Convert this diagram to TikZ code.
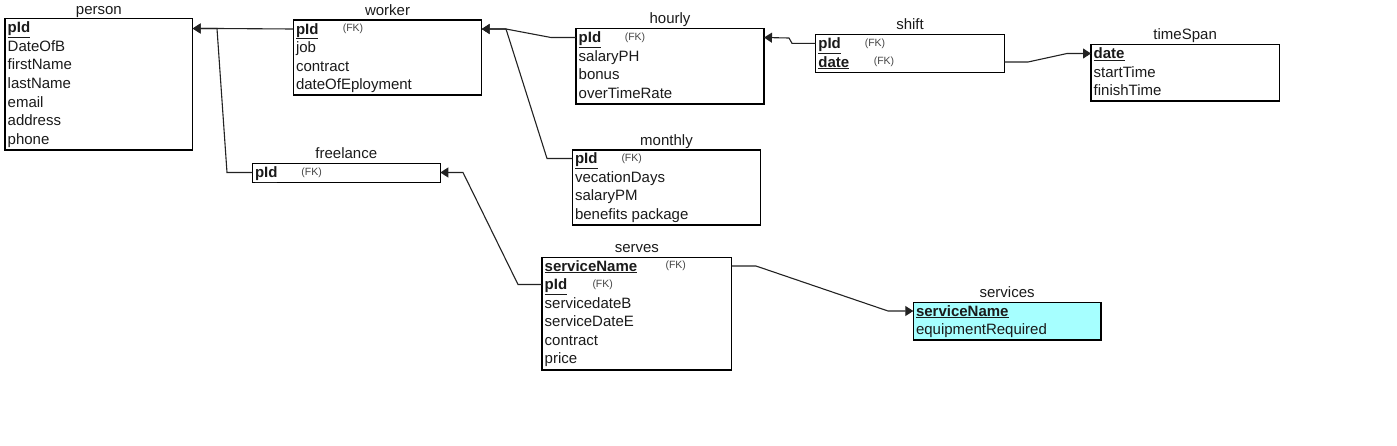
\documentclass[tikz,border=0pt]{standalone}
\usepackage{fontspec}
\setmainfont{Liberation Sans}
\usetikzlibrary{arrows.meta}
\definecolor{svcfill}{HTML}{A6FFFF}
\definecolor{fkgray}{HTML}{444444}
\definecolor{linegray}{HTML}{222222}
\definecolor{txt}{HTML}{1A1A1A}
\tikzset{
  tbox/.style={draw=black, line width=1.2pt, anchor=north west, inner sep=0pt, outer sep=0pt},
  attr/.style={anchor=west, inner sep=0pt, text height=12pt, text depth=2pt, text=txt, font=\fontsize{15}{16}\selectfont},
  fk/.style={anchor=center, inner sep=0pt, text=fkgray, font=\fontsize{10.5}{12}\selectfont},
  ttl/.style={anchor=base, inner sep=0pt, text=txt, font=\fontsize{15}{16}\selectfont},
  conn/.style={draw=linegray, line width=1.1pt, -{Triangle[length=8pt,width=10pt]}},
}
\newcommand{\keyattr}[1]{\underline{\textbf{#1}}}
\begin{document}
\begin{tikzpicture}[x=1pt,y=-1pt]
\useasboundingbox (0,0) rectangle (1397,445);

% person
\node[tbox, minimum width=187.7pt, minimum height=131.3pt] (person) at (5,18.7) {};
\node[ttl] (personT) at ([yshift=4.4pt]person.north) {person};
\node[attr] (ppid) at (7.5,27.3) {\keyattr{pId}};
\node[attr] (p2) at (7.5,46) {DateOfB};
\node[attr] (p3) at (7.5,64.7) {firstName};
\node[attr] (p4) at (7.5,83.3) {lastName};
\node[attr] (p5) at (7.5,102) {email};
\node[attr] (p6) at (7.5,120.7) {address};
\node[attr] (p7) at (7.5,139.3) {phone};

% worker
\node[tbox, minimum width=188.4pt, minimum height=75pt] (worker) at (293.3,20) {};
\node[ttl] (workerT) at ([yshift=4.4pt]worker.north) {worker};
\node[attr] (wpid) at (295.8,29) {\keyattr{pId}};
\node[fk] (wfk) at (353,29) {(FK)};
\node[attr] (w2) at (295.8,47.5) {job};
\node[attr] (w3) at (295.8,66) {contract};
\node[attr] (w4) at (295.8,84.5) {dateOfEployment};

% freelance
\node[tbox, minimum width=188pt, minimum height=19.4pt] (freelance) at (252.3,163.3) {};
\node[ttl] (freelanceT) at ([yshift=4.4pt]freelance.north) {freelance};
\node[attr] (fpid) at (254.8,172.5) {\keyattr{pId}};
\node[fk] (ffk) at (311.7,172.5) {(FK)};

% hourly
\node[tbox, minimum width=188pt, minimum height=75.7pt] (hourly) at (576,28.3) {};
\node[ttl] (hourlyT) at ([yshift=4.4pt]hourly.north) {hourly};
\node[attr] (hpid) at (578.5,37.5) {\keyattr{pId}};
\node[fk] (hfk) at (635,37.5) {(FK)};
\node[attr] (h2) at (578.5,56) {salaryPH};
\node[attr] (h3) at (578.5,74.5) {bonus};
\node[attr] (h4) at (578.5,93) {overTimeRate};

% monthly
\node[tbox, minimum width=188.4pt, minimum height=75pt] (monthly) at (572.3,150) {};
\node[ttl] (monthlyT) at ([yshift=4.4pt]monthly.north) {monthly};
\node[attr] (mpid) at (574.8,158.5) {\keyattr{pId}};
\node[fk] (mfk) at (631.7,158.5) {(FK)};
\node[attr] (m2) at (574.8,177) {vecationDays};
\node[attr] (m3) at (574.8,195.5) {salaryPM};
\node[attr] (m4) at (574.8,214) {benefits package};

% shift
\node[tbox, minimum width=188.6pt, minimum height=38pt] (shift) at (815.7,34.3) {};
\node[ttl] (shiftT) at ([yshift=4.4pt]shift.north) {shift};
\node[attr] (spid) at (818.2,43.3) {\keyattr{pId}};
\node[fk] (sfk1) at (875,43.3) {(FK)};
\node[attr] (sdate) at (818.2,62) {\keyattr{date}};
\node[fk] (sfk2) at (884,62) {(FK)};

% timeSpan
\node[tbox, minimum width=188.3pt, minimum height=56.7pt] (timeSpan) at (1091,44.3) {};
\node[ttl] (timeSpanT) at ([yshift=4.4pt]timeSpan.north) {timeSpan};
\node[attr] (tdate) at (1093.5,53.5) {\keyattr{date}};
\node[attr] (t2) at (1093.5,72) {startTime};
\node[attr] (t3) at (1093.5,90.5) {finishTime};

% serves
\node[tbox, minimum width=189.7pt, minimum height=112.7pt] (serves) at (542,257.3) {};
\node[ttl] (servesT) at ([yshift=4.4pt]serves.north) {serves};
\node[attr] (svname) at (544.5,266) {\keyattr{serviceName}};
\node[fk] (svfk1) at (675.7,266) {(FK)};
\node[attr] (svpid) at (544.5,284.5) {\keyattr{pId}};
\node[fk] (svfk2) at (602.7,284.5) {(FK)};
\node[attr] (sv3) at (544.5,303) {servicedateB};
\node[attr] (sv4) at (544.5,321.5) {serviceDateE};
\node[attr] (sv5) at (544.5,340) {contract};
\node[attr] (sv6) at (544.5,358.5) {price};

% services
\node[tbox, fill=svcfill, minimum width=187.7pt, minimum height=37.7pt] (services) at (913.3,302.3) {};
\node[ttl] (servicesT) at ([yshift=4.4pt]services.north) {services};
\node[attr] (sname) at (915.8,311) {\keyattr{serviceName}};
\node[attr] (s2) at (915.8,329.5) {equipmentRequired};

% junction points
\coordinate (j1) at (217,28.5);
\coordinate (j2) at (506,29);

% connectors
\draw[conn] (worker.west |- wpid.west) -- (j1) -- (person.east |- j1);
\draw[conn] (freelance.west |- fpid.west) -- (227,172.5) -- (j1) -- (person.east |- j1);
\draw[conn] (hourly.west |- hpid.west) -- (551,37.5) -- (j2) -- (worker.east |- j2);
\draw[conn] (monthly.west |- mpid.west) -- (547,158.5) -- (j2) -- (worker.east |- j2);
\draw[conn] (shift.west |- spid.west) -- (792,43.3) -- (789,38) -- (hourly.east |- hpid.west);
\draw[conn] (shift.east |- sdate.west) -- (1028,62) -- (1067,53.5) -- (timeSpan.west |- tdate.west);
\draw[conn] (serves.west |- svpid.west) -- (518,284.5) -- (463,172.5) -- (freelance.east |- fpid.west);
\draw[conn] (serves.east |- svname.west) -- (756,266) -- (888,311) -- (services.west |- sname.west);
\end{tikzpicture}
\end{document}
